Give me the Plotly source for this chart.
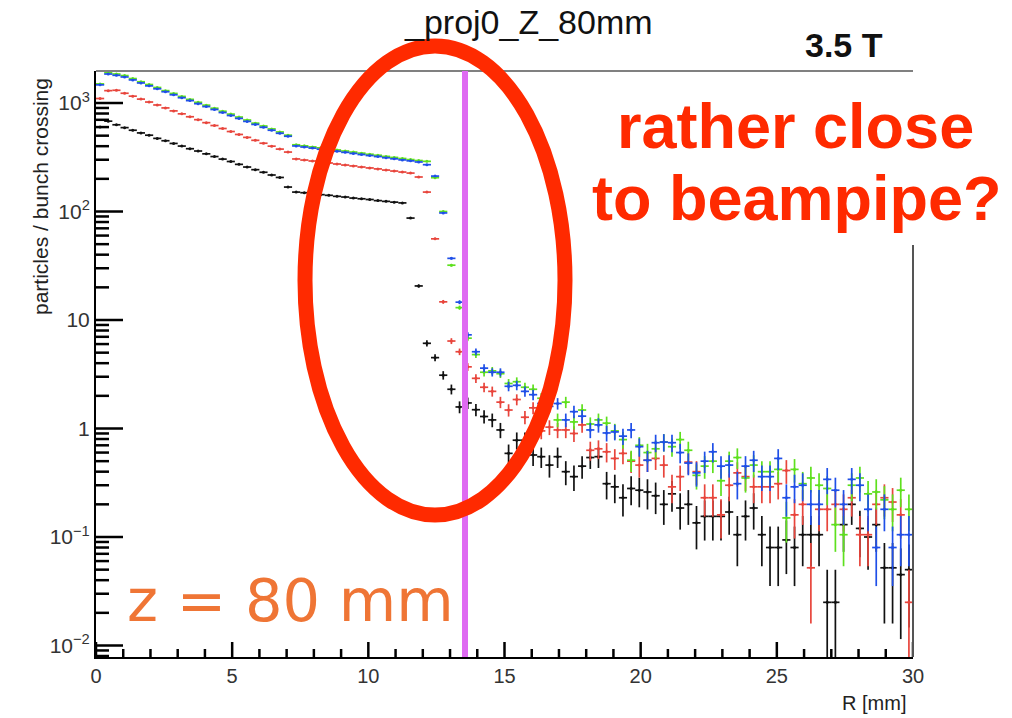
import numpy as np
import plotly.graph_objects as go

# ---------------- data ----------------
N_BINS = 100
BIN_WIDTH = 0.3          # mm
ENTRY_WEIGHT = 0.025     # weight of a single entry (sets sqrt(N) error bars)
BEAMPIPE_R = 13.55       # mm, magenta line

r_mm = BIN_WIDTH * (np.arange(N_BINS) + 0.5)

black_vals = [600, 680, 630, 593, 561, 530, 505, 472, 449, 424,
              401, 379, 361, 340, 321, 304, 289, 272, 257, 243,
              230, 217, 206, 168, 151, 149, 146, 143, 141, 138,
              136, 133, 131, 129, 126, 124, 122, 120, 87, 20.6,
              6.1, 4.5, 3.1, 2.3, 1.58, 1.72, 1.49, 1.29, 1.2, 0.97,
              0.59, 0.78, 0.78, 0.57, 0.55, 0.46, 0.55, 0.40, 0.36, 0.45,
              0.54, 0.55, 0.31, 0.29, 0.23, 0.28, 0.27, 0.26, 0.24, 0.20,
              0.25, 0.185, 0.20, 0.135, 0.155, 0.155, 0.155, 0.17, 0.105, 0.155,
              0.185, 0.105, 0.08, 0.08, 0.094, 0.08, 0.105, 0.105, 0.105, 0.025,
              0.025, 0.13, 0.2, 0.12, 0.1, 0.13, 0.052, 0.052, 0.045, 0.05]

red_vals = [1100, 1300, 1310, 1230, 1156, 1086, 1021, 959, 901, 846,
            795, 747, 702, 659, 620, 582, 546, 513, 482, 453,
            426, 400, 376, 353, 305, 298, 292, 286, 280, 274,
            268, 263, 257, 252, 247, 241, 236, 231, 226, 208,
            151, 56, 14.7, 6.4, 5.1, 3.7, 2.9, 2.4, 2.2, 1.75,
            1.48, 1.85, 1.27, 1.55, 0.95, 1.03, 0.97, 0.97, 0.9, 1.08,
            0.63, 0.65, 0.61, 0.53, 0.59, 0.5, 0.46, 0.51, 0.53, 0.46,
            0.29, 0.36, 0.49, 0.4, 0.23, 0.23, 0.16, 0.3, 0.39, 0.36,
            0.29, 0.29, 0.29, 0.31, 0.41, 0.16, 0.2, 0.052, 0.18, 0.18,
            0.2, 0.18, 0.23, 0.105, 0.105, 0.2, 0.23, 0.21, 0.16, 0.025]

green_vals = [1500, 1900, 1850, 1790, 1680, 1570, 1480, 1390, 1300, 1225,
              1150, 1080, 1015, 955, 895, 840, 790, 742, 697, 652,
              614, 577, 541, 505, 412, 403, 394, 386, 377, 369,
              361, 353, 345, 337, 330, 322, 315, 308, 301, 295,
              290, 205, 100, 32, 13, 6.8, 4.8, 3.3, 3.4, 3.2,
              2.6, 2.7, 2.4, 2.3, 1.9, 1.8, 1.2, 1.75, 1.15, 1.48,
              1.1, 1.2, 1.12, 0.95, 0.79, 0.51, 0.7, 0.6, 0.65, 0.75,
              0.68, 0.79, 0.63, 0.37, 0.45, 0.5, 0.33, 0.5, 0.54, 0.35,
              0.46, 0.4, 0.4, 0.42, 0.15, 0.42, 0.31, 0.35, 0.3, 0.28,
              0.13, 0.105, 0.3, 0.35, 0.25, 0.26, 0.22, 0.18, 0.27, 0.18]

blue_vals = [1470, 1850, 1800, 1738, 1633, 1531, 1439, 1352, 1270, 1191,
             1119, 1052, 986, 927, 871, 817, 767, 721, 677, 635,
             597, 561, 526, 494, 402, 393, 384, 375, 367, 359,
             351, 343, 335, 328, 321, 313, 306, 299, 293, 286,
             270, 212, 97, 37, 14.6, 7.3, 5.1, 3.6, 3.3, 3.3,
             2.45, 2.5, 2.2, 2.05, 1.7, 1.6, 1.7, 1.2, 1.43, 1.3,
             0.97, 1.08, 0.91, 0.93, 0.85, 0.97, 0.68, 0.51, 0.74, 0.75,
             0.74, 0.6, 0.48, 0.39, 0.5, 0.61, 0.45, 0.46, 0.31, 0.45,
             0.51, 0.36, 0.36, 0.53, 0.23, 0.29, 0.3, 0.2, 0.2, 0.34,
             0.27, 0.2, 0.34, 0.3, 0.18, 0.08, 0.18, 0.08, 0.105, 0.105]

series = [("black", black_vals, "#111111"),
          ("red", red_vals, "#e8453c"),
          ("green", green_vals, "#5ee01e"),
          ("blue", blue_vals, "#1f4fe8")]

y_tickvals = [0.01, 0.1, 1, 10, 100, 1000]
y_ticktext = ["10<sup>\u22122</sup>", "10<sup>\u22121</sup>", "1", "10",
              "10<sup>2</sup>", "10<sup>3</sup>"]
x_tickvals = [0, 5, 10, 15, 20, 25, 30]

X_RANGE = [0, 30]
Y_LOG_RANGE = [-2.106, 3.295]

# minor tick positions (axis decoration)
y_minor = [m * 10.0 ** e for e in range(-3, 4) for m in range(2, 10)
           if Y_LOG_RANGE[0] <= np.log10(m * 10.0 ** e) <= Y_LOG_RANGE[1]]
x_minor = [v for v in range(0, 31) if v % 5 != 0]

# ---------------- figure ----------------
W, H = 1012, 718
L, R, T, B = 96, 99, 71, 61
pw, ph = W - L - R, H - T - B


def px_x(px):
    return (px - L) / pw


def px_y(py):
    return (H - B - py) / ph


fig = go.Figure()
for name, vals, col in series:
    v = np.array(vals, dtype=float)
    err = np.sqrt(v * ENTRY_WEIGHT)
    err_minus = np.minimum(err, v * 0.999)
    fig.add_trace(go.Scatter(
        x=r_mm, y=v, mode="markers", name=name,
        marker=dict(size=3, color=col),
        error_x=dict(type="constant", value=BIN_WIDTH / 2, width=0,
                     thickness=1.7, color=col),
        error_y=dict(type="data", array=err, arrayminus=err_minus,
                     symmetric=False, width=0, thickness=1.7, color=col),
        showlegend=False, hoverinfo="skip"))

# ROOT-style inside tick marks, drawn as a line trace in axis units
x_per_px = (X_RANGE[1] - X_RANGE[0]) / pw
logy_per_px = (Y_LOG_RANGE[1] - Y_LOG_RANGE[0]) / ph
y_bottom = 10 ** Y_LOG_RANGE[0]
tx, ty = [], []
for v in y_tickvals:
    tx += [X_RANGE[0], X_RANGE[0] + 27 * x_per_px, None]
    ty += [v, v, None]
for v in y_minor:
    tx += [X_RANGE[0], X_RANGE[0] + 13 * x_per_px, None]
    ty += [v, v, None]
for v in x_tickvals:
    tx += [v, v, None]
    ty += [y_bottom, 10 ** (Y_LOG_RANGE[0] + 15 * logy_per_px), None]
for v in x_minor:
    tx += [v, v, None]
    ty += [y_bottom, 10 ** (Y_LOG_RANGE[0] + 8 * logy_per_px), None]
fig.add_trace(go.Scatter(x=tx, y=ty, mode="lines", connectgaps=False,
                         line=dict(color="black", width=2.5),
                         showlegend=False, hoverinfo="skip"))

font_axis = "Liberation Sans, Arial, Helvetica, sans-serif"

fig.update_layout(
    width=W, height=H,
    margin=dict(l=L, r=R, t=T, b=B, pad=0),
    paper_bgcolor="white", plot_bgcolor="white",
    xaxis=dict(range=X_RANGE, tickmode="array", tickvals=x_tickvals,
               showgrid=False, zeroline=False, showline=True,
               linecolor="black", linewidth=2, ticks="",
               tickfont=dict(family=font_axis, size=20, color="#333")),
    yaxis=dict(type="log", range=Y_LOG_RANGE, tickmode="array",
               tickvals=y_tickvals, ticktext=y_ticktext, showgrid=False,
               zeroline=False, showline=True, linecolor="black", linewidth=2,
               ticks="",
               tickfont=dict(family=font_axis, size=21, color="#333")),
)

shapes = [
    # top and right frame
    dict(type="line", xref="paper", yref="paper", x0=0, x1=1, y0=1, y1=1,
         line=dict(color="#808080", width=2)),
    dict(type="line", xref="paper", yref="paper", x0=1, x1=1, y0=0,
         y1=px_y(245), line=dict(color="#555555", width=2)),
    # beampipe radius line
    dict(type="line", xref="x", yref="paper", x0=BEAMPIPE_R, x1=BEAMPIPE_R,
         y0=0, y1=1, layer="above", line=dict(color="#df6af2", width=6)),
    # red ellipse
    dict(type="circle", xref="paper", yref="paper",
         x0=px_x(305), x1=px_x(565), y0=px_y(515), y1=px_y(46),
         layer="above", line=dict(color="#ff2a00", width=15)),
]
fig.update_layout(shapes=shapes)

ann = []
ann.append(dict(text="_proj0_Z_80mm", xref="paper", yref="paper",
                x=px_x(528), y=px_y(22), xanchor="center", yanchor="middle",
                showarrow=False,
                font=dict(family=font_axis, size=34, color="#111")))
ann.append(dict(text="<b>3.5 T</b>", xref="paper", yref="paper",
                x=px_x(844), y=px_y(45), xanchor="center", yanchor="middle",
                showarrow=False,
                font=dict(family=font_axis, size=34, color="#111")))
ann.append(dict(text="<b>rather close</b>", xref="paper", yref="paper",
                x=px_x(795), y=px_y(126), xanchor="center", yanchor="middle",
                showarrow=False,
                font=dict(family=font_axis, size=63, color="#ff2a00")))
ann.append(dict(text="<b>to beampipe?</b>", xref="paper", yref="paper",
                x=px_x(797), y=px_y(198), xanchor="center", yanchor="middle",
                showarrow=False,
                font=dict(family=font_axis, size=63, color="#ff2a00")))
ann.append(dict(text="z = 80 mm", xref="paper", yref="paper",
                x=px_x(290), y=px_y(600), xanchor="center", yanchor="middle",
                showarrow=False,
                font=dict(family="DejaVu Sans, sans-serif", size=59,
                          color="#ef7535")))
ann.append(dict(text="particles / bunch crossing", xref="paper", yref="paper",
                x=px_x(40), y=px_y(197), xanchor="center", yanchor="middle",
                textangle=-90, showarrow=False,
                font=dict(family=font_axis, size=21, color="#222")))
ann.append(dict(text="R [mm]", xref="paper", yref="paper",
                x=px_x(908), y=px_y(703), xanchor="right", yanchor="middle",
                showarrow=False,
                font=dict(family=font_axis, size=20, color="#222")))
fig.update_layout(annotations=ann)

fig.write_html("out.html")
